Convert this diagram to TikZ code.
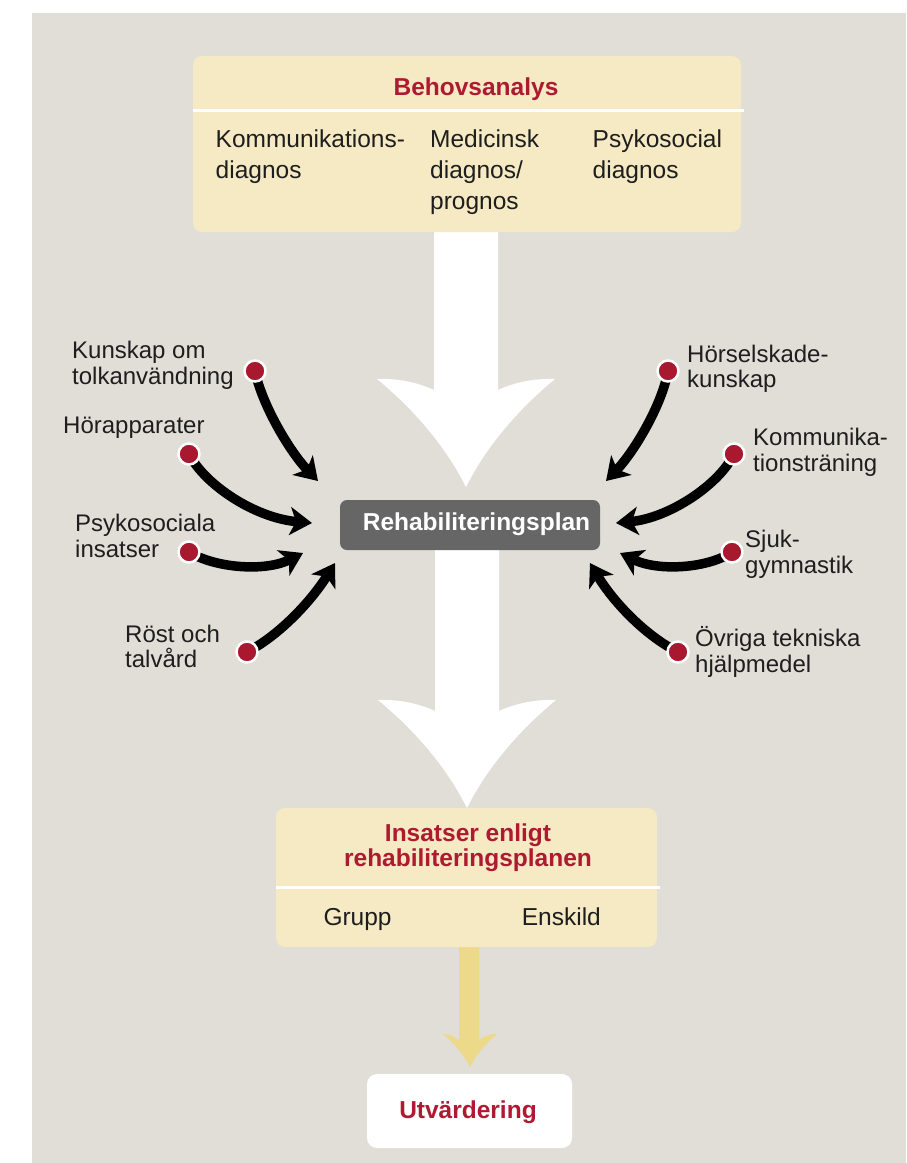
\documentclass[tikz,border=0pt]{standalone}
\usepackage{fontspec}
\setmainfont{Liberation Sans}
\usetikzlibrary{arrows.meta}
\definecolor{bgc}{HTML}{E1DED7}
\definecolor{boxy}{HTML}{F5EAC3}
\definecolor{redt}{HTML}{AE1A32}
\definecolor{dotred}{HTML}{A8182F}
\definecolor{planbox}{HTML}{666666}
\definecolor{yarrow}{HTML}{EDD98A}
\definecolor{txt}{HTML}{1E1E1E}
\pgfdeclarelayer{bglayer}
\pgfdeclarelayer{arrlayer}
\pgfsetlayers{bglayer,arrlayer,main}
\tikzset{
  bigarr/.pic={\fill[white] (0,0) .. controls (-26,-52) and (-66,-89) .. (-89,-108)
     .. controls (-65,-109) and (-45,-103) .. (-32,-97) -- (-32,-270) -- (32,-270) -- (32,-97)
     .. controls (45,-103) and (65,-109) .. (89,-108)
     .. controls (66,-89) and (26,-52) .. (0,0) -- cycle;}
}
\begin{document}
\begin{tikzpicture}[x=1pt,y=-1pt,
  lbl/.style={anchor=north west, align=left, inner sep=0pt, font=\fontsize{24}{25.7}\selectfont, text=txt},
  col/.style={anchor=north west, align=left, inner sep=0pt, font=\fontsize{24.5}{31}\selectfont, text=txt},
  plain/.style={anchor=base west, inner sep=0pt, font=\fontsize{24.5}{31}\selectfont, text=txt},
  ttl/.style={inner sep=0pt, font=\fontsize{24.5}{25.7}\selectfont\bfseries, text=redt},
  dot/.style={circle, fill=dotred, draw=white, line width=2.5pt, minimum size=21pt, inner sep=0pt},
  feed/.style={line width=9.5pt, -{Stealth[length=22pt,width=28pt,inset=6pt]}},
  ybox/.style={fill=boxy, rounded corners=9pt, inner sep=0pt},
  sepline/.style={draw=white, line width=3pt},
]
\useasboundingbox (0,0) rectangle (906,1163);
\begin{pgfonlayer}{bglayer}
\fill[white] (0,0) rectangle (906,1163);
\fill[bgc] (32,13) rectangle (906,1163);
\end{pgfonlayer}

% big white arrows
\pic at (466,487) {bigarr};
\pic at (467,808) {bigarr};

% yellow arrow
\fill[yarrow] (470,1067) .. controls (462,1051) and (450,1040) .. (443,1034)
  .. controls (450,1034) and (455,1037) .. (459,1040) -- (459,940) -- (479,940) -- (479,1040)
  .. controls (483,1037) and (488,1034) .. (497,1034)
  .. controls (490,1040) and (478,1051) .. (470,1067) -- cycle;

% top box
\node[ybox, minimum width=548pt, minimum height=176pt] (behov) at (467,144) {};
\draw[sepline] (193,110) -- (744,110);
\node[ttl, anchor=base] (behovtitle) at (476,95) {Behovsanalys};
\node[col] (c1) at (215.5,129.8) {Kommunikations-\\diagnos};
\node[col] (c2) at (430,129.8) {Medicinsk\\diagnos/\\prognos};
\node[col] (c3) at (592.5,129.8) {Psykosocial\\diagnos};

% plan box
\node[fill=planbox, rounded corners=7pt, minimum width=260pt, minimum height=50pt, inner sep=0pt] (planbox) at (470,525) {};
\node[inner sep=0pt, anchor=base, font=\fontsize{24.5}{26}\selectfont\bfseries, text=white] (plan) at (476.5,530.7) {Rehabiliteringsplan};

% insatser box
\node[ybox, minimum width=381pt, minimum height=139pt] (insats) at (466.5,877.5) {};
\draw[sepline] (276,887) -- (660,887);
\node[ttl, anchor=north, align=center] (insatstitle) at (468,823.3) {Insatser enligt\\rehabiliteringsplanen};
\node[plain] (grupp) at (323.3,925) {Grupp};
\node[plain] (enskild) at (521.7,925) {Enskild};

% evaluation box
\node[fill=white, rounded corners=10pt, minimum width=205pt, minimum height=74pt, inner sep=0pt] (utvbox) at (469.5,1111) {};
\node[ttl, anchor=base] (utv) at (468,1118) {Utvärdering};

% dots
\node[dot] (d1) at (255,371) {};
\node[dot] (d2) at (189,454) {};
\node[dot] (d3) at (189,552) {};
\node[dot] (d4) at (247,652) {};
\node[dot] (e1) at (668,371) {};
\node[dot] (e2) at (734,454) {};
\node[dot] (e3) at (732,552) {};
\node[dot] (e4) at (678,652) {};

% arrow ends
\coordinate (t1) at (318,481);
\coordinate (t2) at (312,523);
\coordinate (t3) at (303,553);
\coordinate (t4) at (335,563);
\coordinate (u1) at (606,481);
\coordinate (u2) at (616,523);
\coordinate (u3) at (620,553);
\coordinate (u4) at (590,563);

\begin{pgfonlayer}{arrlayer}
\draw[feed] (d1.center) .. controls (262,405) and (290,452) .. (t1);
\draw[feed] (d2.center) .. controls (205,485) and (255,518) .. (t2);
\draw[feed] (d3.center) .. controls (215,568) and (265,572) .. (t3);
\draw[feed] (d4.center) .. controls (280,635) and (312,600) .. (t4);
\draw[feed] (e1.center) .. controls (662,405) and (634,452) .. (u1);
\draw[feed] (e2.center) .. controls (719,485) and (669,518) .. (u2);
\draw[feed] (e3.center) .. controls (709,568) and (659,572) .. (u3);
\draw[feed] (e4.center) .. controls (644,635) and (612,600) .. (u4);
\end{pgfonlayer}

% labels
\node[lbl] (l1) at (72,341) {Kunskap om\\tolkanvändning};
\node[lbl] (l2) at (63,417) {Hörapparater};
\node[lbl] (l3) at (75,514) {Psykosociala\\insatser};
\node[lbl] (l4) at (125,624.5) {Röst och\\talvård};
\node[lbl] (r1) at (687,344.5) {Hörselskade-\\kunskap};
\node[lbl] (r2) at (753,428) {Kommunika-\\tionsträning};
\node[lbl] (r3) at (745,530) {Sjuk-\\gymnastik};
\node[lbl] (r4) at (695,626.3) {Övriga tekniska\\hjälpmedel};
\end{tikzpicture}
\end{document}
